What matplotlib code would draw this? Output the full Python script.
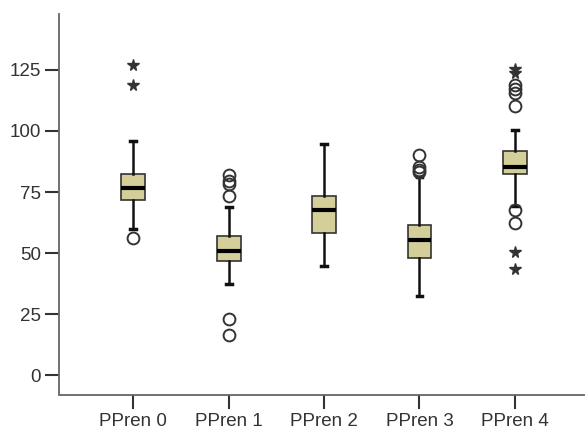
import matplotlib
matplotlib.use("Agg")
import matplotlib.pyplot as plt

plt.rcParams["font.family"] = ["Liberation Sans", "DejaVu Sans"]

# Group labels and five-number summaries
categories = ["PPren 0", "PPren 1", "PPren 2", "PPren 3", "PPren 4"]
medians = [76.5, 50.7, 67.6, 55.2, 85.4]
q1 = [71.7, 46.7, 58.2, 48.0, 82.2]
q3 = [82.2, 57.0, 73.5, 61.5, 91.6]
whisker_low = [59.8, 37.4, 44.6, 32.5, 69.4]
whisker_high = [95.9, 68.8, 94.8, 81.3, 100.4]

# Outliers (circles) and extreme values (stars)
outliers = [
    [56.4],
    [16.7, 22.9, 73.2, 78.2, 79.7, 81.8],
    [],
    [83.0, 84.0, 85.3, 90.0],
    [62.3, 67.5, 110.0, 115.4, 117.0, 118.8],
]
extremes = [
    [118.8, 126.8],
    [],
    [],
    [],
    [43.5, 50.3, 123.7, 125.3],
]

yticks = [0, 25, 50, 75, 100, 125]

fig = plt.figure(figsize=(5.85, 4.36), dpi=100)
ax = fig.add_axes([59.3 / 585, 1 - 394.5 / 436, 1 - 59.3 / 585, (394.5 - 14) / 436])

stats = []
for i, name in enumerate(categories):
    stats.append(dict(label=name, med=medians[i], q1=q1[i], q3=q3[i],
                      whislo=whisker_low[i], whishi=whisker_high[i],
                      fliers=outliers[i]))

positions = list(range(len(categories)))
ax.bxp(stats, positions=positions, widths=0.25, capwidths=0.06,
       patch_artist=True,
       boxprops=dict(facecolor="#d4cf98", edgecolor="#333333", linewidth=1.2),
       medianprops=dict(color="black", linewidth=3.0, solid_capstyle="butt"),
       whiskerprops=dict(color="#111111", linewidth=1.8),
       capprops=dict(color="#111111", linewidth=2.5),
       flierprops=dict(marker="o", markersize=8.5, markerfacecolor="none",
                       markeredgecolor="#333333", markeredgewidth=1.4,
                       linestyle="none"),
       zorder=3)

for i, vals in enumerate(extremes):
    if vals:
        ax.plot([positions[i]] * len(vals), vals, linestyle="none",
                marker="*", markersize=8.5, color="#333333", zorder=4)

ax.set_xlim(-0.776, 4.735)
ax.set_ylim(-7.8, 147.8)
ax.set_yticks(yticks)
ax.set_yticklabels([str(v) for v in yticks])
ax.set_xticks(positions)
ax.set_xticklabels(categories)

for side in ("top", "right"):
    ax.spines[side].set_visible(False)
for side in ("left", "bottom"):
    ax.spines[side].set_color("#666666")
    ax.spines[side].set_linewidth(1.3)

ax.tick_params(axis="both", direction="out", length=10, width=1.5,
               color="#333333", labelcolor="#333333", labelsize=13.5, pad=3)

fig.savefig("out.png", dpi=100)
